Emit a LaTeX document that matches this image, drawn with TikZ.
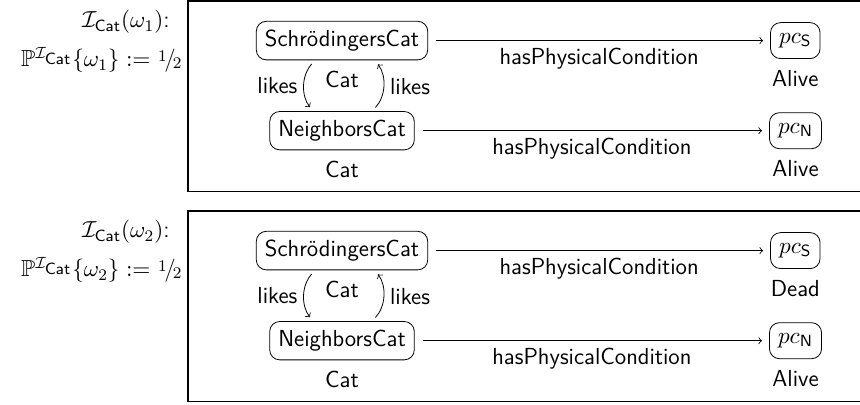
\RequirePackage{fix-cm}
\documentclass[tikz,border=0pt]{standalone}
\usepackage{amssymb}
\newcommand{\myhalf}{\raisebox{.55ex}{$\scriptstyle 1$}\kern-.1em/\kern-.12em\raisebox{-.1ex}{$\scriptstyle 2$}}
\newcommand{\Icat}{\mathcal{I}_{\mathsf{Cat}}}
\newcommand{\Icatsup}{\mathcal{I}_{\scriptstyle\mathsf{Cat}}}
\begin{document}
\begin{tikzpicture}[x=0.5pt,y=-0.5pt,
  every node/.style={font=\fontsize{11.6}{14}\selectfont\sffamily},
  ent/.style={draw, rounded corners=5pt, inner sep=4.3pt, minimum height=18pt},
  typ/.style={label={[yshift=-2pt]below:#1}},
  rel/.style={->, shorten <=4pt, shorten >=3.5pt},
  loopy/.style={->, shorten <=2.5pt, shorten >=2.5pt},
  frame/.style={line width=0.65pt},
  side/.style={inner sep=0pt, anchor=base east}]
\useasboundingbox (0,0) rectangle (860,405);
\clip (0,0) rectangle (860,405);
% frames
\draw[frame] (188,1) rectangle (862,191.5);
\draw[frame] (188,211) rectangle (862,401.5);
% side labels
\node[side] (i1) at (170,28) {$\Icat(\omega_1)$:};
\node[side] (p1) at (182,67) {$\mathbb{P}^{\Icatsup}\{\omega_1\} \mathrel{\mathop:}=$ \myhalf};
\node[side] (i2) at (170,238) {$\Icat(\omega_2)$:};
\node[side] (p2) at (182,277) {$\mathbb{P}^{\Icatsup}\{\omega_2\} \mathrel{\mathop:}=$ \myhalf};
% world 1
\node[ent, typ=Cat] (s1) at (342,40.6) {Schrödingers\-Cat};
\node[ent, typ=Cat] (n1) at (342,130.7) {NeighborsCat};
\node[ent, typ=Alive] (ps1) at (795.3,40.6) {$pc_{\mathsf{S}}$};
\node[ent, typ=Alive] (pn1) at (795.5,130.7) {$pc_{\mathsf{N}}$};
\draw[rel] (s1) -- node[below] {hasPhysicalCondition} (ps1);
\draw[rel] (n1) -- node[below] {hasPhysicalCondition} (pn1);
\draw[loopy] ([xshift=-13.5pt]s1.south) to[bend right=40] node[left] {likes} ([xshift=-14.5pt]n1.north);
\draw[loopy] ([xshift=15pt]n1.north) to[bend right=40] node[right] {likes} ([xshift=16.5pt]s1.south);
% world 2
\node[ent, typ=Cat] (s2) at (342,250.6) {Schrödingers\-Cat};
\node[ent, typ=Cat] (n2) at (342,340.7) {NeighborsCat};
\node[ent, typ=Dead] (ps2) at (795.3,250.6) {$pc_{\mathsf{S}}$};
\node[ent, typ=Alive] (pn2) at (795.5,340.7) {$pc_{\mathsf{N}}$};
\draw[rel] (s2) -- node[below] {hasPhysicalCondition} (ps2);
\draw[rel] (n2) -- node[below] {hasPhysicalCondition} (pn2);
\draw[loopy] ([xshift=-13.5pt]s2.south) to[bend right=40] node[left] {likes} ([xshift=-14.5pt]n2.north);
\draw[loopy] ([xshift=15pt]n2.north) to[bend right=40] node[right] {likes} ([xshift=16.5pt]s2.south);
\end{tikzpicture}
\end{document}
